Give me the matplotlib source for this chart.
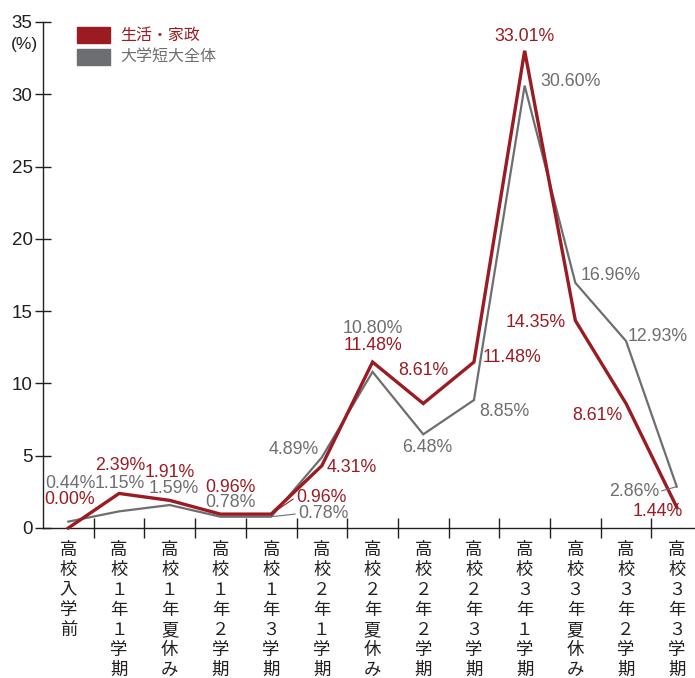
import matplotlib
matplotlib.use("Agg")
import matplotlib.pyplot as plt
from matplotlib.patches import Rectangle

plt.rcParams['font.family'] = ['Liberation Sans', 'Noto Sans CJK JP', 'DejaVu Sans']

categories = ["高校入学前", "高校１年１学期", "高校１年夏休み", "高校１年２学期", "高校１年３学期",
              "高校２年１学期", "高校２年夏休み", "高校２年２学期", "高校２年３学期",
              "高校３年１学期", "高校３年夏休み", "高校３年２学期", "高校３年３学期"]
series_names = ["生活・家政", "大学短大全体"]
red_values = [0.00, 2.39, 1.91, 0.96, 0.96, 4.31, 11.48, 8.61, 11.48, 33.01, 14.35, 8.61, 1.44]
gray_values = [0.44, 1.15, 1.59, 0.78, 0.78, 4.89, 10.80, 6.48, 8.85, 30.60, 16.96, 12.93, 2.86]
yticks = [0, 5, 10, 15, 20, 25, 30, 35]

RED = "#9b1b22"
GRAY = "#6d6e71"
TXT = "#231f20"

# label offsets in pixels (dx, dy) relative to each point
red_off = [(1, 29), (1, 28), (0, 28), (10, 27), (50, 17), (30, -2), (0, 17), (0, 33),
           (38, 5), (0, 14), (-40, -2), (-29, -12), (-19, -4)]
gray_off = [(2, 38), (1, 28), (4, 17), (10, 14), (52, 3), (-28, 8), (0, 43), (4, -13),
            (30, -11), (46, 4), (35, 7), (32, 5), (-43, -5)]
red_leader = [False, False, False, False, True, False, False, False, False, False, False, False, False]
gray_leader = [False, False, False, False, True, False, False, False, False, False, False, False, True]

W, H = 695, 678
fig = plt.figure(figsize=(W / 100, H / 100), dpi=100)
ax = fig.add_axes([43 / W, 1 - 528 / H, (W - 43) / W, (528 - 22) / H])

x = list(range(len(categories)))
ax.plot(x, gray_values, color=GRAY, lw=1.6, clip_on=False, zorder=3, solid_joinstyle='miter')
ax.plot(x, red_values, color=RED, lw=2.4, clip_on=False, zorder=4, solid_joinstyle='miter')

ax.set_xlim(-0.5, -0.5 + (W - 43) / 50.7)
ax.set_ylim(0, 35)

for spine in ['top', 'right']:
    ax.spines[spine].set_visible(False)
for spine in ['left', 'bottom']:
    ax.spines[spine].set_color(TXT)
    ax.spines[spine].set_linewidth(1.0)

ax.set_yticks(yticks)
ax.set_yticklabels([str(v) for v in yticks], fontsize=13.5, color=TXT)
ax.tick_params(axis='y', direction='inout', length=11, width=1.0, color=TXT, pad=2)

ax.set_xticks(x)
ax.set_xticklabels(['\n'.join(c) for c in categories], fontsize=12.5, color=TXT,
                   family=['Noto Sans CJK JP'], linespacing=1.15, va='top')
ax.tick_params(axis='x', which='major', length=0, pad=9)
ax.set_xticks([i + 0.5 for i in x[:-1]], minor=True)
ax.tick_params(axis='x', which='minor', direction='inout', length=14, width=1.0, color=TXT)

ax.text((24 - 43) / (W - 43), 1 - 23 / 506, "(%)", transform=ax.transAxes, fontsize=12.5,
        color=TXT, ha='center', va='center')

def label(vals, offs, leaders, color):
    for i, (v, (dx, dy), ld) in enumerate(zip(vals, offs, leaders)):
        ap = None
        if ld:
            ap = dict(arrowstyle='-', color=color, lw=0.8, shrinkA=0, shrinkB=0,
                      relpos=(0.0, 0.5) if dx > 0 else (1.0, 0.5))
        ax.annotate(f"{v:.2f}%", (i, v), xytext=(dx, dy), textcoords='offset pixels',
                    ha='center', va='center', fontsize=12.8, color=color,
                    arrowprops=ap, annotation_clip=False, zorder=5)

label(gray_values, gray_off, gray_leader, GRAY)
label(red_values, red_off, red_leader, RED)

# legend
for k, (name, col) in enumerate(zip(series_names, [RED, GRAY])):
    y0 = 27 + k * 22
    fig.patches.append(Rectangle((77 / W, 1 - (y0 + 16) / H), 33 / W, 16 / H,
                                 transform=fig.transFigure, color=col))
    fig.text(120 / W, 1 - (y0 + 8) / H, name, fontsize=11.5, color=col,
             family=['Noto Sans CJK JP'], va='center', ha='left')

fig.savefig("out.png", dpi=100)
